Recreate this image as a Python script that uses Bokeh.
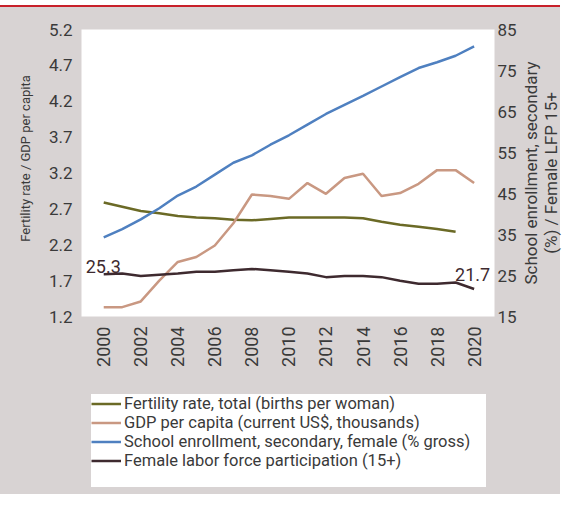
import math
from bokeh.plotting import figure
from bokeh.models import (Range1d, LinearAxis, FixedTicker, NumeralTickFormatter,
                          Legend, LegendItem, Div)
from bokeh.layouts import column, row
from bokeh.embed import file_html
from bokeh.resources import INLINE
from bokeh.core.properties import value

# ---- data ----
years = list(range(2000, 2021))
fertility_years = list(range(2000, 2020))
fertility = [2.79, 2.73, 2.67, 2.64, 2.60, 2.58, 2.57, 2.55, 2.54, 2.56,
             2.58, 2.58, 2.58, 2.58, 2.57, 2.52, 2.48, 2.45, 2.42, 2.38]
gdp = [1.33, 1.33, 1.41, 1.70, 1.96, 2.03, 2.19, 2.50, 2.90, 2.88, 2.84,
       3.06, 2.91, 3.13, 3.19, 2.88, 2.92, 3.05, 3.24, 3.24, 3.06]
school = [34.3, 36.3, 38.7, 41.4, 44.5, 46.7, 49.6, 52.5, 54.3, 56.9, 59.2,
          61.8, 64.4, 66.6, 68.8, 71.1, 73.4, 75.6, 77.0, 78.6, 80.9]
lfp = [25.3, 25.5, 24.9, 25.2, 25.5, 25.9, 25.9, 26.3, 26.6, 26.3, 25.9,
       25.5, 24.6, 24.9, 24.9, 24.6, 23.7, 23.0, 23.0, 23.3, 21.7]

left_ticks = [1.2, 1.7, 2.2, 2.7, 3.2, 3.7, 4.2, 4.7, 5.2]
right_ticks = [15, 25, 35, 45, 55, 65, 75, 85]
x_ticks = list(range(2000, 2021, 2))

series_labels = ["Fertility rate, total (births per woman)",
                 "GDP per capita (current US$, thousands)",
                 "School enrollment, secondary, female (% gross)",
                 "Female labor force participation (15+)"]
left_title = "Fertility rate / GDP per capita"
right_title = "School enrollment, secondary\n(%) / Female LFP 15+"

# ---- style ----
FONT = "Roboto"
GRAY = "#d8d3d3"
TXT = "#3a3a3a"
C_FERT = "#6b6a26"
C_GDP = "#c99882"
C_SCH = "#4f80c0"
C_LFP = "#3e2a2f"
LW = 2.5

p = figure(width=519, height=363,
           x_range=Range1d(1998.8, 2021.1), y_range=Range1d(1.2, 5.2),
           output_backend="svg", toolbar_location=None,
           min_border_left=81, min_border_right=22,
           min_border_top=22, min_border_bottom=54,
           background_fill_color="white", border_fill_color=GRAY,
           outline_line_color=None)
p.extra_y_ranges = {"right": Range1d(15, 85)}
p.grid.visible = False

def style_axis(ax, size="17px"):
    ax.axis_line_color = None
    ax.major_tick_line_color = None
    ax.minor_tick_line_color = None
    ax.major_tick_out = 0
    ax.major_tick_in = 0
    ax.major_label_text_font = FONT
    ax.major_label_text_font_size = size
    ax.major_label_text_color = TXT
    ax.axis_label_text_font = FONT
    ax.axis_label_text_font_style = "normal"
    ax.axis_label_text_color = TXT

xa = p.xaxis[0]
style_axis(xa, "18px")
xa.ticker = FixedTicker(ticks=x_ticks)
xa.major_label_orientation = math.pi / 2
xa.major_label_standoff = 10
xa.axis_label_standoff = 0

ya = p.yaxis[0]
style_axis(ya)
ya.ticker = FixedTicker(ticks=left_ticks)
ya.formatter = NumeralTickFormatter(format="0.0")
ya.major_label_standoff = 9
# leading no-break spaces lift the title slightly above the frame centre, as in the original
ya.axis_label = "\u00a0" * 9 + left_title
ya.axis_label_text_font_size = "13px"
ya.axis_label_standoff = 13

ra = LinearAxis(y_range_name="right")
style_axis(ra)
ra.ticker = FixedTicker(ticks=right_ticks)
ra.major_label_standoff = 3
ra.axis_label_standoff = 0
p.add_layout(ra, "right")

p.line(fertility_years, fertility, line_color=C_FERT, line_width=LW)
p.line(years, gdp, line_color=C_GDP, line_width=LW)
p.line(years, school, line_color=C_SCH, line_width=LW, y_range_name="right")
p.line(years, lfp, line_color=C_LFP, line_width=LW, y_range_name="right")

p.text(x=[years[0]], y=[lfp[0]], text=[f"{lfp[0]:.1f}"], y_range_name="right",
       text_font=value(FONT), text_font_size="18px", text_color=C_LFP,
       text_align="left", text_baseline="alphabetic", x_offset=-18, y_offset=-8)
p.text(x=[years[-1]], y=[lfp[-1]], text=[f"{lfp[-1]:.1f}"], y_range_name="right",
       text_font=value(FONT), text_font_size="18px", text_color=C_LFP,
       text_align="right", text_baseline="alphabetic", x_offset=16, y_offset=-15)

# ---- right-hand title: a narrow strip whose left axis carries the label ----
tf = figure(width=41, height=363, x_range=Range1d(0, 1), y_range=Range1d(15, 85),
            output_backend="svg", toolbar_location=None,
            min_border_left=40, min_border_right=0,
            min_border_top=22, min_border_bottom=54,
            background_fill_alpha=0, border_fill_alpha=0,
            outline_line_color=None)
tf.xaxis.visible = False
tf.grid.visible = False
ty = tf.yaxis[0]
style_axis(ty)
ty.ticker = FixedTicker(ticks=[])
ty.axis_label = right_title
ty.axis_label_text_font_size = "17px"
ty.axis_label_text_line_height = 1.0
ty.axis_label_standoff = 0

# ---- legend panel (separate figure; its lines lie outside its visible range) ----
lg = figure(width=519, height=124, x_range=Range1d(0, 1), y_range=Range1d(0, 1),
            output_backend="svg", toolbar_location=None, min_border=0,
            background_fill_alpha=0, border_fill_alpha=0,
            outline_line_color=None)
lg.axis.visible = False
lg.grid.visible = False
lr = [lg.line(fertility_years, fertility, line_color=C_FERT, line_width=LW),
      lg.line(years, gdp, line_color=C_GDP, line_width=LW),
      lg.line(years, school, line_color=C_SCH, line_width=LW),
      lg.line(years, lfp, line_color=C_LFP, line_width=LW)]
blank = lg.line(years, lfp, line_alpha=0)
items = [LegendItem(label=lab, renderers=[r]) for lab, r in zip(series_labels, lr)]
items.append(LegendItem(label=" ", renderers=[blank]))
legend = Legend(items=items, location=(10, 7), orientation="vertical",
                background_fill_color="white", background_fill_alpha=1.0,
                border_line_color=None, padding=10, spacing=0, margin=0,
                glyph_width=30, glyph_height=17, label_height=17,
                label_width=362, label_standoff=3,
                label_text_font=FONT, label_text_font_size="16.5px",
                label_text_color=TXT, label_text_baseline="middle")
lg.add_layout(legend, "center")

bar = Div(text="", width=560, height=2, margin=(5, 0, 0, 0),
          styles={"background-color": "#c8202a"})
body = row(column(p, lg, spacing=0), tf, spacing=0,
           styles={"background-color": GRAY})
layout = column(bar, body, spacing=0)

open("out.html", "w").write(file_html(layout, INLINE))
